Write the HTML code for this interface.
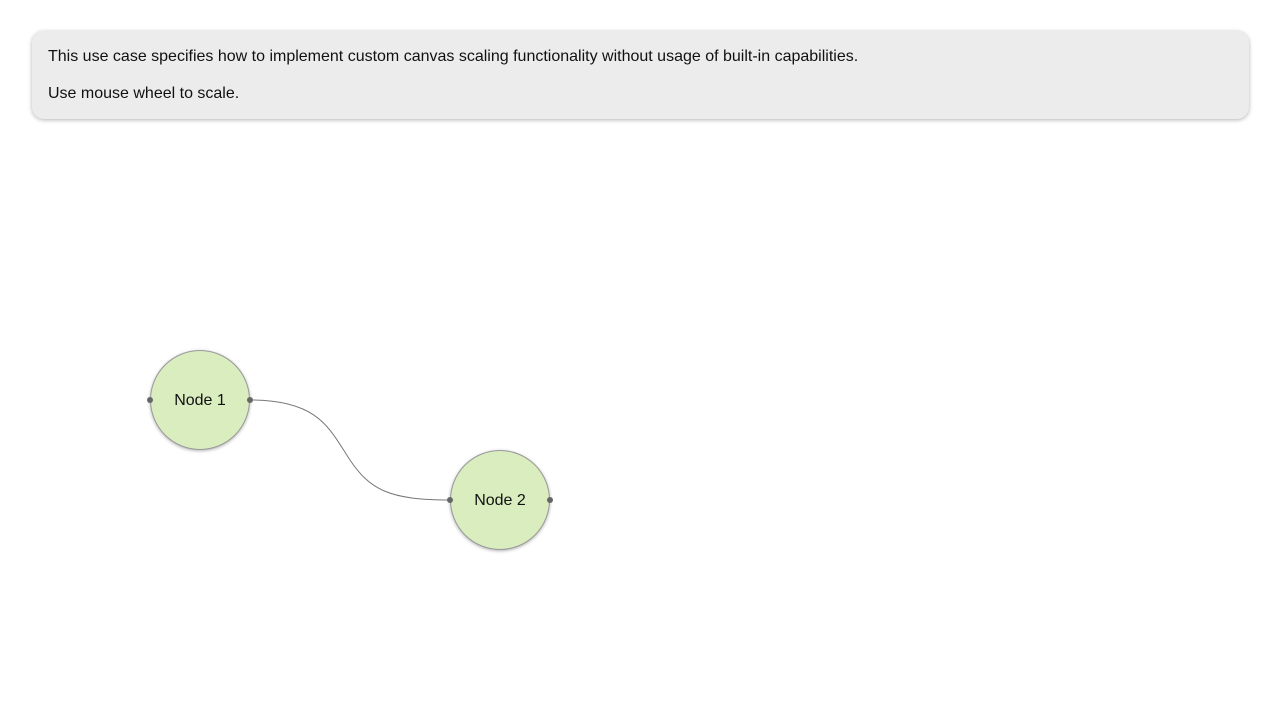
<!DOCTYPE html>
<html><head><style>
body{margin:0;width:1280px;height:720px;background:#fff;font-family:"Liberation Sans",sans-serif;position:relative;overflow:hidden}
.box{position:absolute;left:32px;top:31px;height:88px;background:#ececec;border-radius:12px;box-shadow:0 1px 4px rgba(0,0,0,.3);box-sizing:border-box;width:1217px;font-size:16px;color:#111}
.box p{margin:0;position:absolute;left:16px}
.n{position:absolute;width:100px;height:100px;border-radius:50%;background:#daedbf;border:1px solid #999;box-sizing:border-box;box-shadow:0 1px 3px rgba(0,0,0,.3);display:flex;align-items:center;justify-content:center;font-size:16px;color:#111;padding-top:1px}
</style></head><body>
<div class="box"><p style="top:17px">This use case specifies how to implement custom canvas scaling functionality without usage of built-in capabilities.</p><p style="top:54px">Use mouse wheel to scale.</p></div>
<div class="n" style="left:150px;top:350px">Node 1</div>
<div class="n" style="left:450px;top:450px">Node 2</div>
<svg width="1280" height="720" style="position:absolute;left:0;top:0">
<path d="M250 400 C320 400 330 430 350 460 C370 490 390 500 450 500" fill="none" stroke="#777" stroke-width="1"/>
<g fill="#666"><circle cx="150" cy="400" r="3"/><circle cx="250" cy="400" r="3"/><circle cx="450" cy="500" r="3"/><circle cx="550" cy="500" r="3"/></g>
</svg>
</body></html>
